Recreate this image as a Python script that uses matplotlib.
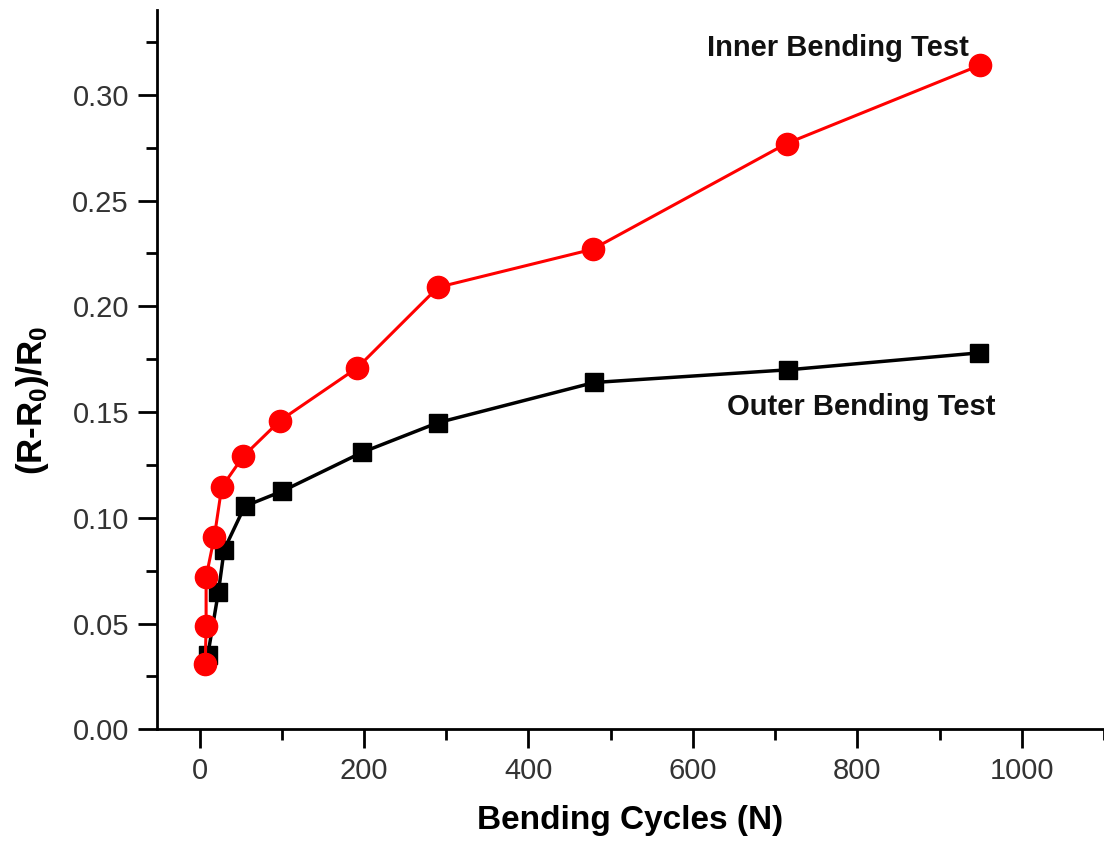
import matplotlib
matplotlib.use('Agg')
import matplotlib.pyplot as plt
from matplotlib.ticker import MultipleLocator

# fonts
plt.rcParams['font.family'] = ['Liberation Sans', 'DejaVu Sans']
plt.rcParams['mathtext.fontset'] = 'custom'
plt.rcParams['mathtext.bf'] = 'Liberation Sans:bold'
plt.rcParams['mathtext.rm'] = 'Liberation Sans:bold'
plt.rcParams['mathtext.default'] = 'bf'

# data
inner_cycles = [7, 8, 8, 18, 27, 53, 98, 192, 290, 478, 714, 949]
inner_resist = [0.031, 0.049, 0.072, 0.091, 0.1145, 0.129, 0.146, 0.171, 0.209, 0.227, 0.277, 0.314]

outer_cycles = [10, 23, 30, 55, 100, 198, 290, 480, 716, 948]
outer_resist = [0.035, 0.065, 0.085, 0.1055, 0.1125, 0.131, 0.145, 0.164, 0.170, 0.178]

fig = plt.figure(figsize=(11.04, 8.56), dpi=100)
ax = fig.add_axes([0.142, 0.148, 0.858, 0.84])

ax.plot(outer_cycles, outer_resist, color='black', lw=2.5, marker='s', ms=13, zorder=3)
ax.plot(inner_cycles, inner_resist, color='#ff0000', lw=2.2, marker='o', ms=16, zorder=4)

ax.text(776, 0.322, 'Inner Bending Test', fontsize=21, fontweight='bold',
        ha='center', va='center', color='#111111')
ax.text(805, 0.1524, 'Outer Bending Test', fontsize=21, fontweight='bold',
        ha='center', va='center', color='#111111')

ax.set_xlim(-52, 1100)
ax.set_ylim(0, 0.34)

ax.xaxis.set_major_locator(MultipleLocator(200))
ax.xaxis.set_minor_locator(MultipleLocator(100))
ax.yaxis.set_major_locator(MultipleLocator(0.05))
ax.yaxis.set_minor_locator(MultipleLocator(0.025))
ax.yaxis.set_major_formatter(matplotlib.ticker.FormatStrFormatter('%.2f'))

for side in ['top', 'right']:
    ax.spines[side].set_visible(False)
for side in ['left', 'bottom']:
    ax.spines[side].set_linewidth(2)

ax.tick_params(which='major', direction='out', length=14, width=2,
               labelsize=21, labelcolor='#333333', pad=6)
ax.tick_params(which='minor', direction='out', length=8, width=2)

ax.set_xlabel('Bending Cycles (N)', fontsize=24, fontweight='bold', labelpad=14)
ax.set_ylabel(r'(R-R$_0$)/R$_0$', fontsize=25, fontweight='bold')
ax.yaxis.set_label_coords(-0.112, 0.457)

fig.savefig('out.png', dpi=100)
